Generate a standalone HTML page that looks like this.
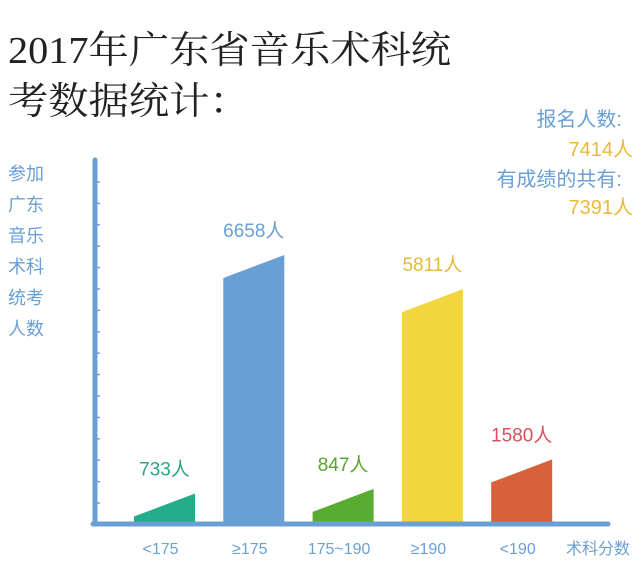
<!DOCTYPE html>
<html><head><meta charset="utf-8"><style>
html,body{margin:0;padding:0;background:#fff;}
body{width:640px;height:565px;overflow:hidden;position:relative;font-family:"Liberation Sans","Noto Sans CJK SC",sans-serif;}
.t{position:absolute;white-space:nowrap;}
.title{font-family:"Liberation Serif","Noto Serif CJK SC",serif;font-size:38px;color:#222;left:8px;transform-origin:0 0;transform:scaleX(1.06);line-height:1;}
.yl{left:8px;color:#6a9fd4;font-size:18px;line-height:1;}
.r{color:#6a9fd4;font-size:20px;line-height:1;}
.o{color:#ebb93a;font-size:20px;line-height:1;}
</style></head><body>
<div class="t title" style="top:32px">2017年广东省音乐术科统</div>
<div class="t title" style="top:83px">考数据统计：</div>
<div class="t yl" style="top:159px;line-height:31px">参加<br>广东<br>音乐<br>术科<br>统考<br>人数</div>
<div class="t r" style="right:18px;top:110px">报名人数:</div>
<div class="t o" style="right:7px;top:140px">7414人</div>
<div class="t r" style="right:18px;top:170px">有成绩的共有:</div>
<div class="t o" style="right:7px;top:198px">7391人</div>
<svg id="chart" width="640" height="565" style="position:absolute;left:0;top:0" xmlns="http://www.w3.org/2000/svg"></svg>
<script>
const categories = ["<175","≥175","175~190","≥190","<190"];
const values = [733, 6658, 847, 5811, 1580];
const valueLabels = ["733人","6658人","847人","5811人","1580人"];
const barColors = ["#24ad8a","#6a9fd4","#5aab32","#f3d63f","#d6613a"];
const labelColors = ["#2aa585","#6a9fd4","#5aa530","#e6b93a","#d9505e"];
const svg = document.getElementById('chart');
const NS = 'http://www.w3.org/2000/svg';
const baseY = 523, maxVal = 6658, maxH = 268;
function yScale(v){ return baseY - v / maxVal * maxH; }
function xScale(i){ return 134 + i * 89.3; }
const barW = 61, slant = 23;
function mk(tag, attrs){ const e = document.createElementNS(NS, tag); for (const k in attrs) e.setAttribute(k, attrs[k]); svg.appendChild(e); return e; }
let a = mk('line',{x1:95,y1:160,x2:95,y2:524,stroke:'#6a9fd4','stroke-width':5,'stroke-linecap':'round'});


for (let k = 0; k < 16; k++) {
  const ty = 503 - k * 21.4;
  const t = mk('line',{x1:95,y1:ty,x2:100,y2:ty,stroke:'#6a9fd4','stroke-width':1.5});
  
  
}
categories.forEach((c, i) => {
  const x = xScale(i), top = yScale(values[i]);
  const p = mk('polygon',{points:`${x},${baseY} ${x},${top+slant} ${x+barW},${top} ${x+barW},${baseY}`,fill:barColors[i]});
  
  
  const lt = mk('text',{x:x+barW/2,y:top-18,'text-anchor':'middle',fill:labelColors[i],'font-size':19,'font-family':'Liberation Sans, Noto Sans CJK SC, sans-serif'});
  lt.textContent = valueLabels[i];
  
  
  const xt = mk('text',{x:x+barW/2-4,y:554,'text-anchor':'middle',fill:'#6a9fd4','font-size':16,'font-family':'Liberation Sans, Noto Sans CJK SC, sans-serif'});
  xt.textContent = c;
  
  
});
let b = mk('line',{x1:93,y1:baseY+1,x2:608,y2:baseY+1,stroke:'#6a9fd4','stroke-width':5,'stroke-linecap':'round'});


const xtitle = mk('text',{x:598,y:554,'text-anchor':'middle',fill:'#6a9fd4','font-size':16,'font-family':'Liberation Sans, Noto Sans CJK SC, sans-serif'});
xtitle.textContent = '术科分数';


</script>
</body></html>
